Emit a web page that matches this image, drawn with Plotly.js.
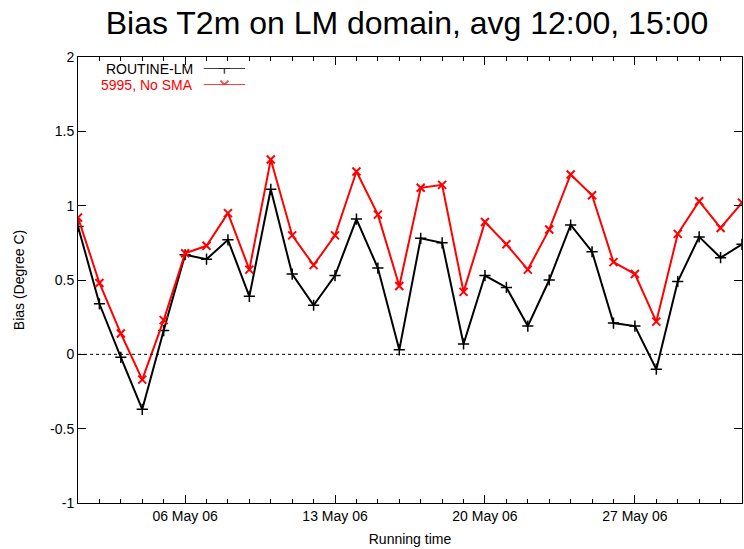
<!DOCTYPE html>
<html><head><meta charset="utf-8">
<script src="https://cdn.plot.ly/plotly-3.0.1.min.js"></script>
<style>body{margin:0;background:#fff}#c{width:744px;height:549px}</style>
</head><body><div id="c"></div>
<script>
const dates = ["2006-05-01","2006-05-02","2006-05-03","2006-05-04","2006-05-05","2006-05-06","2006-05-07","2006-05-08","2006-05-09","2006-05-10","2006-05-11","2006-05-12","2006-05-13","2006-05-14","2006-05-15","2006-05-16","2006-05-17","2006-05-18","2006-05-19","2006-05-20","2006-05-21","2006-05-22","2006-05-23","2006-05-24","2006-05-25","2006-05-26","2006-05-27","2006-05-28","2006-05-29","2006-05-30","2006-05-31","2006-06-01"];
const routine = [0.86,0.34,-0.02,-0.37,0.16,0.67,0.64,0.77,0.39,1.11,0.54,0.33,0.53,0.91,0.58,0.03,0.78,0.75,0.07,0.53,0.45,0.19,0.50,0.87,0.69,0.21,0.19,-0.10,0.49,0.79,0.65,0.74];
const noSma = [0.92,0.48,0.14,-0.17,0.23,0.68,0.73,0.95,0.57,1.31,0.80,0.60,0.80,1.23,0.94,0.46,1.12,1.14,0.42,0.89,0.74,0.57,0.84,1.21,1.07,0.62,0.54,0.22,0.81,1.03,0.85,1.02];
const tickDates = ["2006-05-06","2006-05-13","2006-05-20","2006-05-27"];
const tickText = ["06 May 06","13 May 06","20 May 06","27 May 06"];
const names = ["ROUTINE-LM","5995, No SMA"];
const colors = ["#000000","#ff0000"];

const fam = "Liberation Sans, Arial, sans-serif";
const font = {family:fam, size:14, color:"#000"};
const traces = [
  {x:dates, y:routine, mode:"lines+markers", name:names[0], showlegend:false,
   line:{color:colors[0], width:2}, marker:{symbol:"cross-thin", size:8, line:{color:colors[0], width:1.5}}},
  {x:dates, y:noSma, mode:"lines+markers", name:names[1], showlegend:false,
   line:{color:colors[1], width:2}, marker:{symbol:"x-thin", size:8, line:{color:colors[1], width:2}}},
  // legend samples on a hidden helper axis
  {x:[0,0.5,1], y:[0,0,0], xaxis:"x2", yaxis:"y2", mode:"lines+markers", showlegend:false, hoverinfo:"skip",
   line:{color:colors[0], width:1.5}, marker:{symbol:"cross-thin", size:[0,8,0], line:{color:colors[0], width:1.5}}},
  {x:[0,0.5,1], y:[1,1,1], xaxis:"x2", yaxis:"y2", mode:"lines+markers", showlegend:false, hoverinfo:"skip",
   line:{color:colors[1], width:1.5}, marker:{symbol:"x-thin", size:[0,8,0], line:{color:colors[1], width:2}}}
];
const layout = {
  width:744, height:549, paper_bgcolor:"#fff", plot_bgcolor:"#fff",
  margin:{l:78, r:2, t:57, b:46},
  font:font,
  title:{text:"Bias T2m on LM domain, avg 12:00, 15:00", font:{family:fam, size:32, color:"#000"}, x:0.547, xanchor:"center", y:0.958, yanchor:"middle"},
  xaxis:{type:"date", range:["2006-05-01","2006-06-01"], tickvals:tickDates, ticktext:tickText,
    ticks:"inside", ticklen:8, tickcolor:"#000", showgrid:false, zeroline:false,
    showline:true, linecolor:"#000", linewidth:1, mirror:"ticks",
    minor:{dtick:86400000, tick0:"2006-05-01", ticks:"inside", ticklen:4, tickcolor:"#000", showgrid:false},
    title:{text:"Running time", font:font, standoff:11}, tickfont:font},
  yaxis:{range:[-1,2], tickvals:[-1,-0.5,0,0.5,1,1.5,2], ticktext:["-1","-0.5","0","0.5","1","1.5","2"],
    ticks:"inside", ticklen:8, tickcolor:"#000", showgrid:false,
    zeroline:false, showline:true, linecolor:"#000", linewidth:1, mirror:"ticks",
    title:{text:"Bias (Degree C)", font:font, standoff:22}, tickfont:font},
  xaxis2:{domain:[0.189,0.252], range:[0,1], visible:false, fixedrange:true},
  yaxis2:{domain:[0.938,0.975], range:[1,0], visible:false, fixedrange:true, anchor:"x2"},
  shapes:[{type:"line", xref:"paper", x0:0, x1:1, yref:"y", y0:0, y1:0, line:{color:"#000", width:1, dash:"dot"}}],
  annotations:[
    {xref:"paper", yref:"paper", x:0.176, y:0.973, xanchor:"right", yanchor:"middle", text:names[0], showarrow:false, font:{family:fam, size:14, color:colors[0]}},
    {xref:"paper", yref:"paper", x:0.176, y:0.937, xanchor:"right", yanchor:"middle", text:names[1], showarrow:false, font:{family:fam, size:14, color:colors[1]}}
  ]
};
Plotly.newPlot("c", traces, layout, {staticPlot:true});
</script></body></html>
